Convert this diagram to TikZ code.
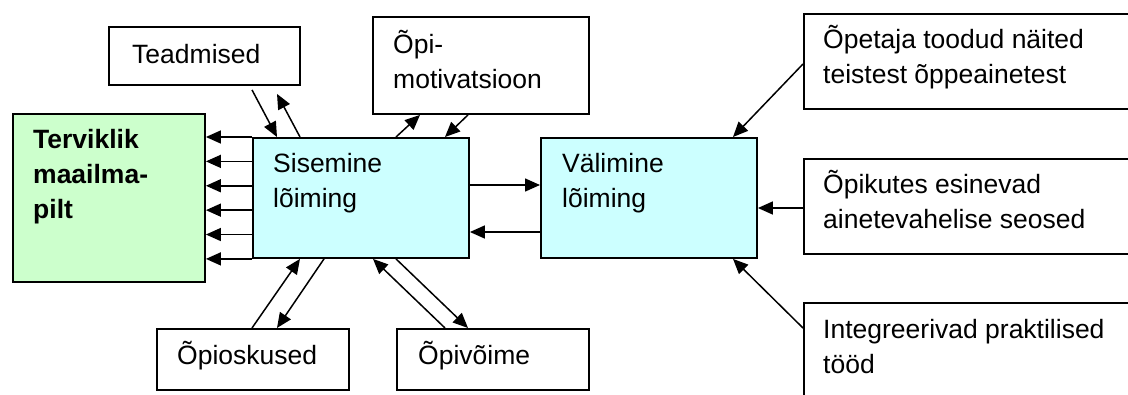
\documentclass[tikz,border=0pt]{standalone}
\usepackage{fontspec}
\setmainfont{Liberation Sans}
\usetikzlibrary{arrows.meta,calc}
\definecolor{grnfill}{HTML}{CCFFCC}
\definecolor{cynfill}{HTML}{CCFFFF}
\begin{document}
\begin{tikzpicture}[x=1pt,y=-1pt,
  box/.style={draw=black, line width=1.9pt, rectangle, inner sep=0pt, anchor=north west},
  txt/.style={anchor=north west, inner sep=0pt, align=left, font=\fontsize{26.5}{35}\selectfont},
  btxt/.style={txt, font=\fontsize{26.5}{35}\selectfont\bfseries},
  arr/.style={line width=1.5pt, -{Triangle[length=15pt,width=13pt]}}]
\useasboundingbox (0,0) rectangle (1128,394);

% boxes
\node[box, fill=grnfill, minimum width=192pt, minimum height=168pt] (grn) at (12,113) {};
\node[box, minimum width=191pt, minimum height=58pt] (tea) at (108,26) {};
\node[box, minimum width=216pt, minimum height=97pt] (opi) at (372,16) {};
\node[box, fill=cynfill, minimum width=216pt, minimum height=120pt] (sis) at (252,137) {};
\node[box, fill=cynfill, minimum width=216pt, minimum height=120pt] (val) at (540,137) {};
\node[box, minimum width=337pt, minimum height=95pt] (ope) at (803,13) {};
\node[box, minimum width=337pt, minimum height=95pt] (opk) at (803,158) {};
\node[box, minimum width=337pt, minimum height=110pt] (int) at (803,302) {};
\node[box, minimum width=192pt, minimum height=61pt] (osk) at (156,328) {};
\node[box, minimum width=192pt, minimum height=61pt] (voi) at (396,328) {};

% texts
\node[btxt] (grnT) at ($(grn.north west)+(21,10)$) {\rule{0pt}{25pt}Terviklik\\maailma-\\pilt};
\node[txt] (teaT) at ($(tea.north west)+(24,12)$) {\rule{0pt}{25pt}Teadmised};
\node[txt] (opiT) at ($(opi.north west)+(21,12)$) {\rule{0pt}{25pt}Õpi-\\motivatsioon};
\node[txt] (sisT) at ($(sis.north west)+(21,10)$) {\rule{0pt}{25pt}Sisemine\\lõiming};
\node[txt] (valT) at ($(val.north west)+(22,10)$) {\rule{0pt}{25pt}Välimine\\lõiming};
\node[txt] (opeT) at ($(ope.north west)+(20,10)$) {\rule{0pt}{25pt}Õpetaja toodud näited\\teistest õppeainetest};
\node[txt] (opkT) at ($(opk.north west)+(20,10)$) {\rule{0pt}{25pt}Õpikutes esinevad\\ainetevahelise seosed};
\node[txt] (intT) at ($(int.north west)+(20,11)$) {\rule{0pt}{25pt}Integreerivad praktilised\\tööd};
\node[txt] (oskT) at ($(osk.north west)+(21,11)$) {\rule{0pt}{25pt}Õpioskused};
\node[txt] (voiT) at ($(voi.north west)+(22,11)$) {\rule{0pt}{25pt}Õpivõime};

% six arrows to the whole picture
\foreach \k in {0,...,5}{
  \coordinate (L\k) at ($(sis.north west)!\k/5!(sis.south west)$);
  \draw[arr] (L\k) -- (L\k -| grn.east);
}

% Teadmised
\draw[arr] ($(tea.south west)+(144,4)$) -- ($(sis.north west)+(25,0)$);
\draw[arr] ($(sis.north west)+(48,0)$) -- ($(tea.south west)+(169,8)$);
% Opi-motivatsioon
\draw[arr] ($(sis.north west)+(144,0)$) -- ($(opi.south west)+(48,0)$);
\draw[arr] ($(opi.south west)+(96,0)$) -- ($(sis.north west)+(193,0)$);
% Sisemine <-> Valimine
\draw[arr] ($(sis.north east)+(0,48)$) -- ($(val.north west)+(0,48)$);
\draw[arr] ($(val.north west)+(0,95)$) -- ($(sis.north east)+(0,95)$);
% right side
\draw[arr] ($(ope.north west)+(0,51)$) -- ($(val.north west)+(193,0)$);
\coordinate (R2) at ($(opk.north west)+(0,50)$);
\draw[arr] (R2) -- (R2 -| val.east);
\draw[arr] ($(int.north west)+(0,26)$) -- ($(val.south west)+(193,0)$);
% bottom
\draw[arr] ($(osk.north west)+(96,0)$) -- ($(sis.south west)+(48,0)$);
\draw[arr] ($(sis.south west)+(72,0)$) -- ($(osk.north west)+(121,0)$);
\draw[arr] ($(voi.north west)+(49,0)$) -- ($(sis.south west)+(121,0)$);
\draw[arr] ($(sis.south west)+(144,0)$) -- ($(voi.north west)+(72,0)$);
\end{tikzpicture}
\end{document}
